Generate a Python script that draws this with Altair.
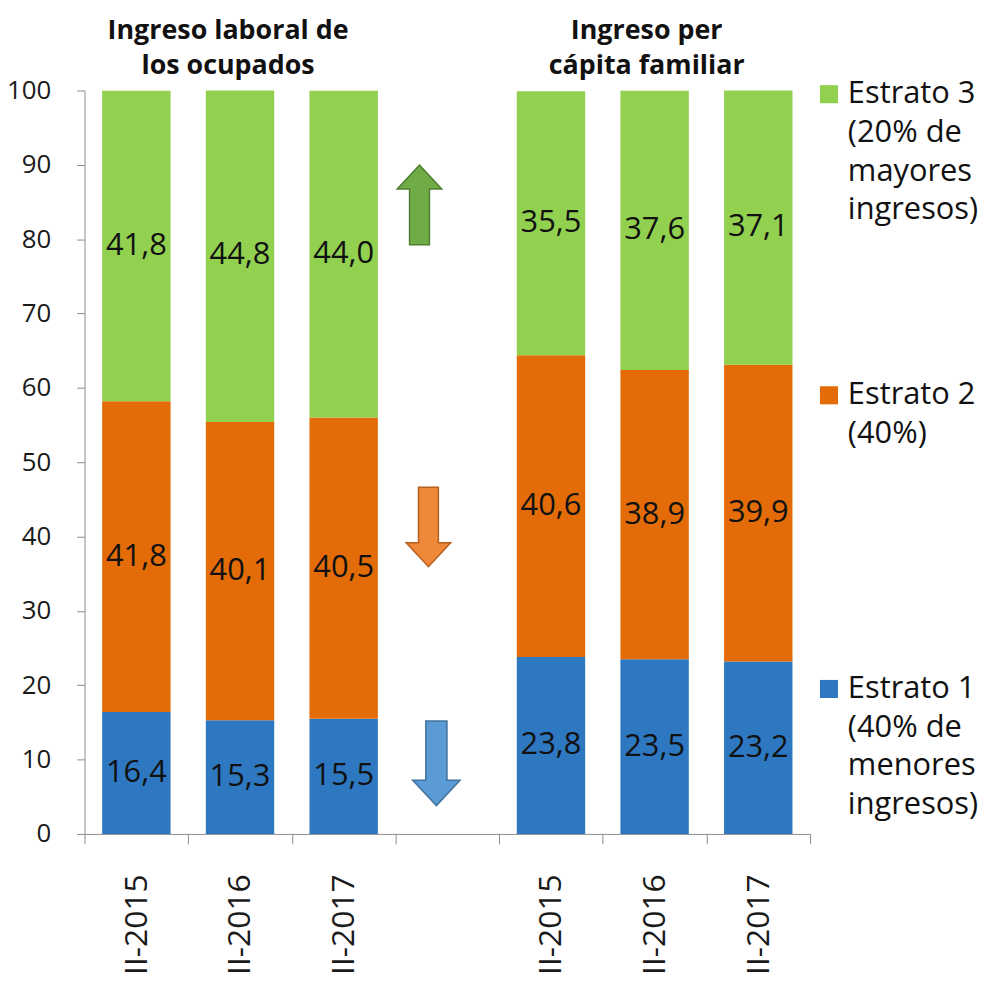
import json
import altair as alt
import pandas as pd

# ---- data ----
periods = ["II-2015", "II-2016", "II-2017"]
strata = ["Estrato 1", "Estrato 2", "Estrato 3"]
laboral_e1 = [16.4, 15.3, 15.5]
laboral_e2 = [41.8, 40.1, 40.5]
laboral_e3 = [41.8, 44.8, 44.0]
percap_e1 = [23.8, 23.5, 23.2]
percap_e2 = [40.6, 38.9, 39.9]
percap_e3 = [35.5, 37.6, 37.1]
group_titles = ["Ingreso laboral de\nlos ocupados", "Ingreso per\ncápita familiar"]
legend_labels = [
    "Estrato 1\n(40% de\nmenores\ningresos)",
    "Estrato 2\n(40%)",
    "Estrato 3\n(20% de\nmayores\ningresos)",
]
arrow_dirs = ["down", "down", "up"]  # Estrato 1, 2, 3
colors = ["#2E78C2", "#E36C09", "#92D050"]

FONT = "Open Sans"
slot_labels = periods + [""] + periods

rows = []
for g, series in enumerate([[laboral_e1, laboral_e2, laboral_e3], [percap_e1, percap_e2, percap_e3]]):
    for i in range(len(periods)):
        idx = i + 4 * g
        for k, (s, vals) in enumerate(zip(strata, series)):
            rows.append({"idx": idx, "stratum": s, "order": k, "value": vals[i]})
df = pd.DataFrame(rows)

x_enc = alt.X(
    "idx:O",
    scale=alt.Scale(domain=list(range(7)), paddingInner=0, paddingOuter=0),
    axis=alt.Axis(
        title=None,
        labelExpr=json.dumps(slot_labels) + "[datum.value]",
        labelAngle=-90,
        labelFontSize=32,
        labelFont=FONT,
        labelColor="#1a1a1a",
        labelPadding=30,
        tickSize=10,
        tickBand="extent",
        tickColor="#8c8c8c",
        domainColor="#8c8c8c",
    ),
)
y_scale = alt.Scale(domain=[0, 100])
y_axis = alt.Axis(
    title=None,
    values=list(range(0, 101, 10)),
    grid=False,
    tickSize=8,
    labelPadding=26,
    labelFontSize=26,
    labelFont=FONT,
    labelColor="#1a1a1a",
    tickColor="#8c8c8c",
    domainColor="#8c8c8c",
)
color_enc = alt.Color("stratum:N", scale=alt.Scale(domain=strata, range=colors), legend=None)

base = alt.Chart(df).transform_stack(
    stack="value", groupby=["idx"], sort=[alt.SortField("order")], as_=["y0", "y1"]
).transform_calculate(
    ymid="(datum.y0 + datum.y1) / 2",
    label="replace(format(datum.value, '.1f'), '.', ',')",
)

bars = base.mark_bar(clip=True, width=alt.RelativeBandSize(0.66)).encode(
    x=x_enc,
    y=alt.Y("y0:Q", scale=y_scale, axis=y_axis),
    y2="y1:Q",
    color=color_enc,
)
labels = base.mark_text(fontSize=31, font=FONT, color="#111111").encode(
    x=x_enc,
    y=alt.Y("ymid:Q", scale=y_scale),
    text="label:N",
)

# group titles above the bars
titles_df = pd.DataFrame({"idx": [1, 5], "title": group_titles, "top": [100, 100]})
titles = []
for j, off in enumerate([-12, -8]):
    titles.append(
        alt.Chart(titles_df.iloc[[j]]).mark_text(
            font=FONT, fontSize=27, fontWeight="bold", baseline="top", dy=-73,
            xOffset=off, lineBreak="\n", lineHeight=35, color="#111111",
        ).encode(x=x_enc, y=alt.Y("top:Q", scale=y_scale), text="title:N")
    )

# arrows in the empty slot
UP = "M -0.25 1 L -0.25 -0.4 L -0.56 -0.4 L 0 -1 L 0.56 -0.4 L 0.25 -0.4 L 0.25 1 Z"
DOWN = "M -0.25 -1 L -0.25 0.4 L -0.56 0.4 L 0 1 L 0.56 0.4 L 0.25 0.4 L 0.25 -1 Z"
arrow_style = [
    # (level, xOffset, size, fill, stroke)
    (9.5, -11, 7225, "#5B9BD5", "#41719C"),
    (41.3, -19, 6400, "#F0883A", "#B5601F"),
    (84.6, -28, 6400, "#6FAC46", "#507E32"),
]
arrows = []
for d, (lvl, xo, sz, fl, st) in zip(arrow_dirs, arrow_style):
    arrows.append(
        alt.Chart(pd.DataFrame({"idx": [3], "level": [lvl]})).mark_point(
            shape=UP if d == "up" else DOWN, size=sz, filled=True, fill=fl,
            stroke=st, strokeWidth=1.5, opacity=1, xOffset=xo,
        ).encode(x=x_enc, y=alt.Y("level:Q", scale=y_scale))
    )

# legend at the right
legend_df = pd.DataFrame({
    "stratum": strata,
    "label": legend_labels,
    "level": [19.5, 59.0, 99.5],
})
leg_sq = alt.Chart(legend_df).mark_square(size=330, opacity=1).encode(
    x=alt.value(749),
    y=alt.Y("level:Q", scale=y_scale),
    color=color_enc,
)
leg_tx = alt.Chart(legend_df).mark_text(
    font=FONT, fontSize=31, align="left", baseline="top", dy=-15,
    lineBreak="\n", lineHeight=39, color="#111111",
).encode(
    x=alt.value(768),
    y=alt.Y("level:Q", scale=y_scale),
    text="label:N",
)

chart = alt.layer(bars, labels, *titles, *arrows, leg_sq, leg_tx).properties(
    width=730,
    height=748,
    padding={"left": 77, "top": 80, "right": 182, "bottom": 148},
    autosize=alt.AutoSizeParams(type="none"),
    background="white",
).configure_view(stroke=None)

chart.save("out.html", embed_options={"renderer": "svg", "actions": False})
